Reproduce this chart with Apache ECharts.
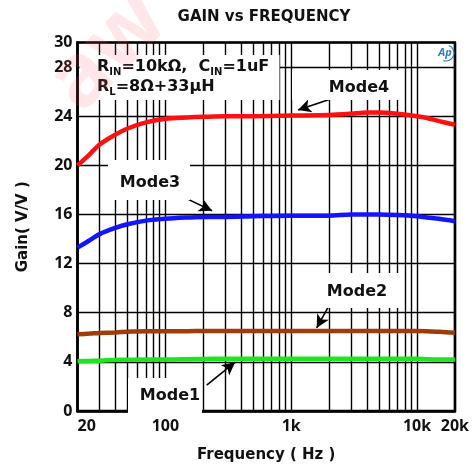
<!DOCTYPE html>
<html><head><meta charset="utf-8">
<script src="https://cdn.jsdelivr.net/npm/echarts@6/dist/echarts.min.js"></script>
<style>html,body{margin:0;padding:0;background:#fff}#c{width:472px;height:468px}</style>
</head><body><div id="c"></div>
<script>
// ---- data ----
const freqs = [20, 25, 30, 40, 50, 70, 100, 150, 200, 300, 500, 1000, 2000, 3000, 4000, 5000, 7000, 10000, 12000, 15000, 20000];
const mode4 = [20.0, 20.9, 21.7, 22.5, 23.0, 23.5, 23.8, 23.9, 23.95, 24.0, 24.0, 24.05, 24.1, 24.2, 24.3, 24.3, 24.2, 24.0, 23.85, 23.6, 23.3];
const mode3 = [13.3, 13.9, 14.4, 14.9, 15.2, 15.5, 15.65, 15.75, 15.8, 15.8, 15.85, 15.9, 15.9, 16.0, 16.0, 16.0, 15.95, 15.85, 15.75, 15.65, 15.45];
const mode2 = [6.25, 6.3, 6.35, 6.4, 6.45, 6.5, 6.5, 6.5, 6.52, 6.52, 6.52, 6.52, 6.52, 6.52, 6.52, 6.52, 6.52, 6.52, 6.5, 6.45, 6.38];
const mode1 = [4.05, 4.08, 4.1, 4.15, 4.18, 4.2, 4.2, 4.22, 4.24, 4.25, 4.25, 4.25, 4.25, 4.25, 4.25, 4.25, 4.25, 4.25, 4.22, 4.2, 4.2];
const xGridFreqs = [20,30,40,50,60,70,80,90,100,200,300,400,500,600,700,800,900,1000,2000,3000,4000,5000,6000,7000,8000,9000,10000,20000];
const xTickLabels = {20:'20', 100:'100', 1000:'1k', 10000:'10k', 20000:'20k'};
const seriesNames = ['Mode1','Mode2','Mode3','Mode4'];
// annotation arrows in data coordinates [from, to]
const arrowMode4 = [[2148, 25.46], [1132, 24.5]];
const arrowMode3 = [[138, 17.43], [235, 16.3]];
const arrowMode2 = [[2148, 9.17], [1594, 6.76]];
const arrowMode1 = [[213, 2.11], [358, 3.97]];

const F = '"Noto Sans", "DejaVu Sans", sans-serif';
const D = '"DejaVu Sans", sans-serif';
const pair = arr => freqs.map((f, i) => [f, arr[i]]);

const chart = echarts.init(document.getElementById('c'), null, {renderer: 'canvas'});

function curve(name, data, color) {
  return {
    name, type: 'line', data: pair(data), smooth: 0.3, showSymbol: false, symbol: 'none',
    lineStyle: {color, width: 4.5}, z: 10, silent: true
  };
}

function modeLabel(text, x0, y0, w, h, tx, ty) {
  return [
    {type: 'rect', shape: {x: x0, y: y0, width: w, height: h}, style: {fill: '#fff'}, z: 50, silent: true},
    {type: 'text', x: tx, y: ty, z: 51, silent: true,
     style: {text, font: 'bold 16px ' + D, fill: '#111', align: 'center', verticalAlign: 'middle'}}
  ];
}

const option = {
  animation: false,
  backgroundColor: '#fff',
  grid: {left: 77.5, right: 17, top: 42.5, bottom: 50.5, show: true, borderColor: '#000', borderWidth: 2.5, backgroundColor: 'transparent'},
  xAxis: {
    type: 'log', logBase: 10, min: 20, max: 20000,
    name: 'Frequency ( Hz )', nameLocation: 'middle', nameGap: 37,
    nameTextStyle: {fontFamily: D, fontWeight: 'bold', fontSize: 15, color: '#111'},
    axisLine: {show: true, lineStyle: {color: '#000', width: 2.5}},
    axisTick: {show: false},
    splitLine: {show: false},
    minorSplitLine: {show: false},
    axisLabel: {
      fontFamily: F, fontWeight: 'bold', fontSize: 16, color: '#111', margin: 7,
      showMinLabel: true, showMaxLabel: true, alignMinLabel: 'left',
      formatter: v => xTickLabels[Math.round(v)] || ''
    }
  },
  yAxis: {
    type: 'value', min: 0, max: 30, interval: 4,
    name: 'Gain( V/V )', nameLocation: 'middle', nameGap: 47, nameRotate: 90,
    nameTextStyle: {fontFamily: D, fontWeight: 'bold', fontSize: 15, color: '#111'},
    axisLine: {show: true, lineStyle: {color: '#000', width: 2.5}},
    axisTick: {show: false},
    splitLine: {show: true, lineStyle: {color: '#000', width: 1.4}},
    axisLabel: {fontFamily: F, fontWeight: 'bold', fontSize: 16, color: '#111', margin: 5, showMaxLabel: true}
  },
  series: [
    {
      name: 'grid', type: 'line', data: [], silent: true, z: 1,
      markLine: {
        silent: true, symbol: ['none', 'none'], label: {show: false},
        lineStyle: {color: '#000', width: 1.4, type: 'solid'},
        data: xGridFreqs.map(f => ({xAxis: f}))
      }
    },
    curve(seriesNames[0], mode1, '#1ee61e'),
    curve(seriesNames[1], mode2, '#a03c0a'),
    curve(seriesNames[2], mode3, '#1414ff'),
    curve(seriesNames[3], mode4, '#ff1010'),
    {
      name: 'arrows', type: 'line', data: [], silent: true, z: 60,
      markLine: {
        silent: true, symbol: ['none', 'arrow'], symbolSize: [10, 13], label: {show: false},
        lineStyle: {color: '#000', width: 1.6, type: 'solid'},
        data: [arrowMode4, arrowMode3, arrowMode2, arrowMode1].map(a => [{coord: a[0]}, {coord: a[1]}])
      }
    }
  ],
  graphic: [
    {type: 'text', x: 264, y: 17, silent: true,
     style: {text: 'GAIN vs FREQUENCY', font: 'bold 15px ' + D, fill: '#111', align: 'center', verticalAlign: 'middle'}},
    {type: 'rect', shape: {x: 79.5, y: 55, width: 200, height: 45}, style: {fill: '#fff'}, z: 50, silent: true},
    {type: 'text', x: 97, y: 57, z: 51, silent: true,
     style: {
       text: '{b|R}{s|IN}{b|=10kΩ,  C}{s|IN}{b|=1uF}\n{b|R}{s|L}{b|=8Ω+33μH}',
       fill: '#111',
       rich: {
         b: {fontFamily: D, fontWeight: 'bold', fontSize: 16, lineHeight: 20, fill: '#111'},
         s: {fontFamily: D, fontWeight: 'bold', fontSize: 10, lineHeight: 12, verticalAlign: 'bottom', fill: '#111'}
       }
     }},
    ...modeLabel('Mode4', 292, 70, 108, 30, 359, 88),
    ...modeLabel('Mode3', 108, 160, 82, 40, 150, 183),
    ...modeLabel('Mode2', 325, 273, 78, 35, 357, 292),
    ...modeLabel('Mode1', 128, 378, 74, 36, 170, 396),
    {type: 'arc', shape: {cx: 446, cy: 53, r: 8, startAngle: -1.2, endAngle: 1.9, clockwise: true},
     style: {stroke: '#2a7fd0', lineWidth: 1.2, fill: null}, z: 55, silent: true},
    {type: 'text', x: 445, y: 53, z: 56, silent: true,
     style: {text: 'Ap', font: 'italic bold 11px ' + F, fill: '#2a7fd0', align: 'center', verticalAlign: 'middle'}},
    {type: 'text', x: 108, y: 52, rotation: Math.PI / 4, z: 70, silent: true,
     style: {text: 'aw', font: 'bold 88px ' + F, fill: 'rgba(245,90,110,0.15)', align: 'center', verticalAlign: 'middle'}}
  ]
};
chart.setOption(option);
</script>
</body></html>
